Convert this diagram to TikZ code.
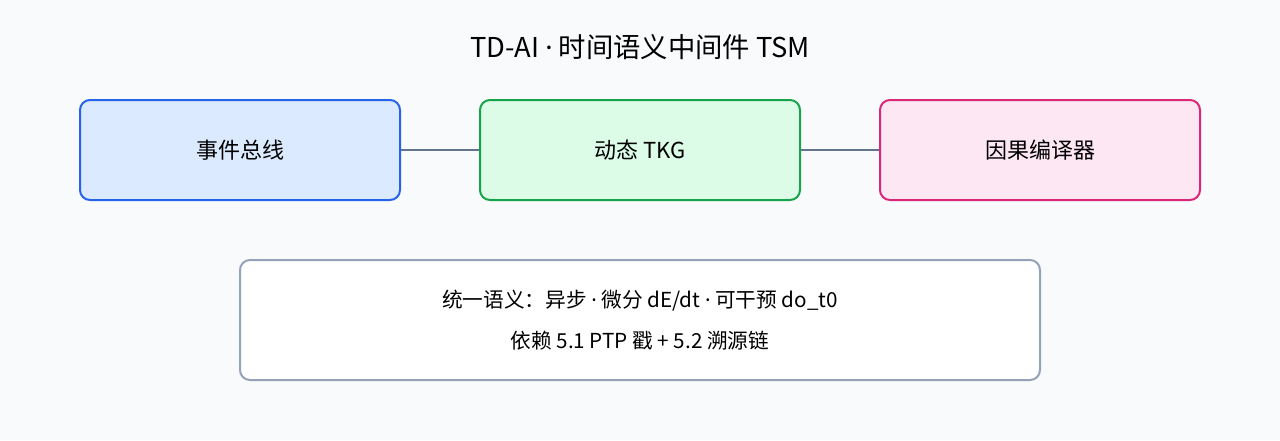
\documentclass[tikz,border=0pt]{standalone}
\usepackage{fontspec}
\setmainfont{Noto Sans CJK SC}
\newfontfamily\latinfont{Noto Sans}
\newcommand\mdot{{\latinfont ·}}
\usepackage{tikz}
\usetikzlibrary{positioning}
\definecolor{bgcol}{HTML}{F8FAFC}
\definecolor{busfill}{HTML}{DBEAFE}
\definecolor{busline}{HTML}{2563EB}
\definecolor{tkgfill}{HTML}{DCFCE7}
\definecolor{tkgline}{HTML}{16A34A}
\definecolor{cmpfill}{HTML}{FCE7F3}
\definecolor{cmpline}{HTML}{DB2777}
\definecolor{semline}{HTML}{94A3B8}
\definecolor{linkcol}{HTML}{64748B}
\begin{document}
\begin{tikzpicture}[x=0.75pt,y=-0.75pt,
  module/.style={draw,line width=1.5pt,rounded corners=7.5pt,minimum width=240pt,minimum height=75pt,inner sep=0pt,font=\fontsize{16.5}{20}\selectfont},
  link/.style={draw=linkcol,line width=1.5pt}]
  \fill[bgcol] (0,0) rectangle (1280,440); % background
  \useasboundingbox (0,0) rectangle (1280,440);
      \node (title) at (640,47) {\fontsize{20.5}{24}\selectfont TD-AI \mdot{} 时间语义中间件 TSM}; % title
      \node[module,fill=busfill,draw=busline] (bus) at (240,150) {事件总线}; % event bus
      \node[module,fill=tkgfill,draw=tkgline] (tkg) at (640,150) {动态 TKG}; % dynamic TKG
      \node[module,fill=cmpfill,draw=cmpline] (compiler) at (1040,150) {因果编译器}; % causal compiler
      \draw[link] (bus) -- (tkg); % link
      \draw[link] (tkg) -- (compiler); % link
      \node[draw=semline,fill=white,line width=1.5pt,rounded corners=7.5pt,minimum width=600pt,minimum height=90pt,align=center,font=\fontsize{15.5}{31}\selectfont] (semantics) at (640,320)
        {统一语义：异步 \mdot{} 微分 dE/dt \mdot{} 可干预 do\_t0\\依赖 5.1 PTP 戳 + 5.2 溯源链}; % semantics box
\end{tikzpicture}
\end{document}
